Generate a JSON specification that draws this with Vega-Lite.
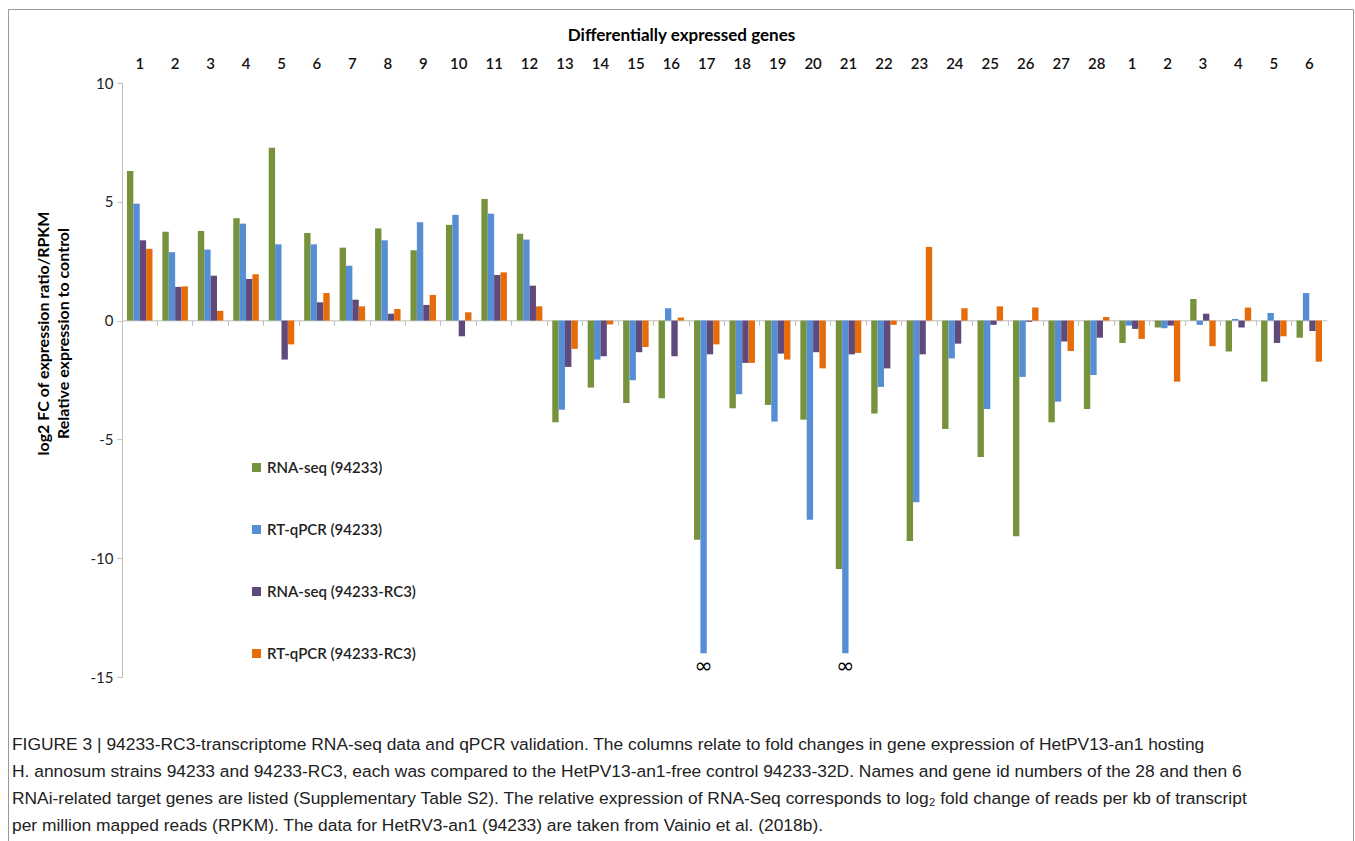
{
  "$schema": "https://vega.github.io/schema/vega-lite/v6.json",
  "width": 1345,
  "height": 834,
  "autosize": {"type": "none"},
  "padding": {"left": 8, "top": 9, "right": 2, "bottom": 0},
  "background": "white",
  "title": {
    "text": [
      "FIGURE 3 | 94233-RC3-transcriptome RNA-seq data and qPCR validation. The columns relate to fold changes in gene expression of HetPV13-an1 hosting",
      " H. annosum strains 94233 and 94233-RC3, each was compared to the HetPV13-an1-free control 94233-32D. Names and gene id numbers of the 28 and then 6",
      "RNAi-related target genes are listed (Supplementary Table S2). The relative expression of RNA-Seq corresponds to log₂ fold change of reads per kb of transcript",
      "per million mapped reads (RPKM). The data for HetRV3-an1 (94233) are taken from Vainio et al. (2018b)."
    ],
    "orient": "bottom",
    "anchor": "start",
    "frame": "group",
    "offset": -107,
    "dx": 4,
    "font": "Liberation Sans",
    "fontSize": 17.4,
    "fontWeight": "normal",
    "color": "#222222",
    "lineHeight": 27,
    "baseline": "top"
  },
  "datasets": {
    "inf": [
      {"g": "A17", "s": "RT-qPCR (94233)", "v": -14, "t": "∞"},
      {"g": "A21", "s": "RT-qPCR (94233)", "v": -14, "t": "∞"}
    ]
  },
  "data": {"values": [
    {"g":"A1","s":"RNA-seq (94233)","v":6.30},{"g":"A1","s":"RT-qPCR (94233)","v":4.92},{"g":"A1","s":"RNA-seq (94233-RC3)","v":3.38},{"g":"A1","s":"RT-qPCR (94233-RC3)","v":3.02},
    {"g":"A2","s":"RNA-seq (94233)","v":3.74},{"g":"A2","s":"RT-qPCR (94233)","v":2.88},{"g":"A2","s":"RNA-seq (94233-RC3)","v":1.42},{"g":"A2","s":"RT-qPCR (94233-RC3)","v":1.44},
    {"g":"A3","s":"RNA-seq (94233)","v":3.77},{"g":"A3","s":"RT-qPCR (94233)","v":2.99},{"g":"A3","s":"RNA-seq (94233-RC3)","v":1.89},{"g":"A3","s":"RT-qPCR (94233-RC3)","v":0.41},
    {"g":"A4","s":"RNA-seq (94233)","v":4.31},{"g":"A4","s":"RT-qPCR (94233)","v":4.08},{"g":"A4","s":"RNA-seq (94233-RC3)","v":1.75},{"g":"A4","s":"RT-qPCR (94233-RC3)","v":1.95},
    {"g":"A5","s":"RNA-seq (94233)","v":7.28},{"g":"A5","s":"RT-qPCR (94233)","v":3.21},{"g":"A5","s":"RNA-seq (94233-RC3)","v":-1.64},{"g":"A5","s":"RT-qPCR (94233-RC3)","v":-1.00},
    {"g":"A6","s":"RNA-seq (94233)","v":3.69},{"g":"A6","s":"RT-qPCR (94233)","v":3.21},{"g":"A6","s":"RNA-seq (94233-RC3)","v":0.77},{"g":"A6","s":"RT-qPCR (94233-RC3)","v":1.16},
    {"g":"A7","s":"RNA-seq (94233)","v":3.07},{"g":"A7","s":"RT-qPCR (94233)","v":2.31},{"g":"A7","s":"RNA-seq (94233-RC3)","v":0.88},{"g":"A7","s":"RT-qPCR (94233-RC3)","v":0.60},
    {"g":"A8","s":"RNA-seq (94233)","v":3.88},{"g":"A8","s":"RT-qPCR (94233)","v":3.38},{"g":"A8","s":"RNA-seq (94233-RC3)","v":0.29},{"g":"A8","s":"RT-qPCR (94233-RC3)","v":0.49},
    {"g":"A9","s":"RNA-seq (94233)","v":2.96},{"g":"A9","s":"RT-qPCR (94233)","v":4.14},{"g":"A9","s":"RNA-seq (94233-RC3)","v":0.66},{"g":"A9","s":"RT-qPCR (94233-RC3)","v":1.08},
    {"g":"A10","s":"RNA-seq (94233)","v":4.03},{"g":"A10","s":"RT-qPCR (94233)","v":4.45},{"g":"A10","s":"RNA-seq (94233-RC3)","v":-0.66},{"g":"A10","s":"RT-qPCR (94233-RC3)","v":0.35},
    {"g":"A11","s":"RNA-seq (94233)","v":5.12},{"g":"A11","s":"RT-qPCR (94233)","v":4.50},{"g":"A11","s":"RNA-seq (94233-RC3)","v":1.92},{"g":"A11","s":"RT-qPCR (94233-RC3)","v":2.03},
    {"g":"A12","s":"RNA-seq (94233)","v":3.66},{"g":"A12","s":"RT-qPCR (94233)","v":3.41},{"g":"A12","s":"RNA-seq (94233-RC3)","v":1.47},{"g":"A12","s":"RT-qPCR (94233-RC3)","v":0.60},
    {"g":"A13","s":"RNA-seq (94233)","v":-4.28},{"g":"A13","s":"RT-qPCR (94233)","v":-3.75},{"g":"A13","s":"RNA-seq (94233-RC3)","v":-1.95},{"g":"A13","s":"RT-qPCR (94233-RC3)","v":-1.19},
    {"g":"A14","s":"RNA-seq (94233)","v":-2.82},{"g":"A14","s":"RT-qPCR (94233)","v":-1.64},{"g":"A14","s":"RNA-seq (94233-RC3)","v":-1.50},{"g":"A14","s":"RT-qPCR (94233-RC3)","v":-0.16},
    {"g":"A15","s":"RNA-seq (94233)","v":-3.47},{"g":"A15","s":"RT-qPCR (94233)","v":-2.51},{"g":"A15","s":"RNA-seq (94233-RC3)","v":-1.33},{"g":"A15","s":"RT-qPCR (94233-RC3)","v":-1.11},
    {"g":"A16","s":"RNA-seq (94233)","v":-3.27},{"g":"A16","s":"RT-qPCR (94233)","v":0.52},{"g":"A16","s":"RNA-seq (94233-RC3)","v":-1.50},{"g":"A16","s":"RT-qPCR (94233-RC3)","v":0.13},
    {"g":"A17","s":"RNA-seq (94233)","v":-9.22},{"g":"A17","s":"RT-qPCR (94233)","v":-14.0},{"g":"A17","s":"RNA-seq (94233-RC3)","v":-1.42},{"g":"A17","s":"RT-qPCR (94233-RC3)","v":-1.00},
    {"g":"A18","s":"RNA-seq (94233)","v":-3.69},{"g":"A18","s":"RT-qPCR (94233)","v":-3.10},{"g":"A18","s":"RNA-seq (94233-RC3)","v":-1.78},{"g":"A18","s":"RT-qPCR (94233-RC3)","v":-1.78},
    {"g":"A19","s":"RNA-seq (94233)","v":-3.55},{"g":"A19","s":"RT-qPCR (94233)","v":-4.25},{"g":"A19","s":"RNA-seq (94233-RC3)","v":-1.39},{"g":"A19","s":"RT-qPCR (94233-RC3)","v":-1.64},
    {"g":"A20","s":"RNA-seq (94233)","v":-4.17},{"g":"A20","s":"RT-qPCR (94233)","v":-8.38},{"g":"A20","s":"RNA-seq (94233-RC3)","v":-1.33},{"g":"A20","s":"RT-qPCR (94233-RC3)","v":-2.01},
    {"g":"A21","s":"RNA-seq (94233)","v":-10.45},{"g":"A21","s":"RT-qPCR (94233)","v":-14.0},{"g":"A21","s":"RNA-seq (94233-RC3)","v":-1.42},{"g":"A21","s":"RT-qPCR (94233-RC3)","v":-1.36},
    {"g":"A22","s":"RNA-seq (94233)","v":-3.91},{"g":"A22","s":"RT-qPCR (94233)","v":-2.79},{"g":"A22","s":"RNA-seq (94233-RC3)","v":-2.01},{"g":"A22","s":"RT-qPCR (94233-RC3)","v":-0.18},
    {"g":"A23","s":"RNA-seq (94233)","v":-9.28},{"g":"A23","s":"RT-qPCR (94233)","v":-7.65},{"g":"A23","s":"RNA-seq (94233-RC3)","v":-1.42},{"g":"A23","s":"RT-qPCR (94233-RC3)","v":3.10},
    {"g":"A24","s":"RNA-seq (94233)","v":-4.56},{"g":"A24","s":"RT-qPCR (94233)","v":-1.59},{"g":"A24","s":"RNA-seq (94233-RC3)","v":-0.97},{"g":"A24","s":"RT-qPCR (94233-RC3)","v":0.52},
    {"g":"A25","s":"RNA-seq (94233)","v":-5.74},{"g":"A25","s":"RT-qPCR (94233)","v":-3.72},{"g":"A25","s":"RNA-seq (94233-RC3)","v":-0.18},{"g":"A25","s":"RT-qPCR (94233-RC3)","v":0.60},
    {"g":"A26","s":"RNA-seq (94233)","v":-9.08},{"g":"A26","s":"RT-qPCR (94233)","v":-2.37},{"g":"A26","s":"RNA-seq (94233-RC3)","v":-0.05},{"g":"A26","s":"RT-qPCR (94233-RC3)","v":0.55},
    {"g":"A27","s":"RNA-seq (94233)","v":-4.28},{"g":"A27","s":"RT-qPCR (94233)","v":-3.41},{"g":"A27","s":"RNA-seq (94233-RC3)","v":-0.88},{"g":"A27","s":"RT-qPCR (94233-RC3)","v":-1.28},
    {"g":"A28","s":"RNA-seq (94233)","v":-3.72},{"g":"A28","s":"RT-qPCR (94233)","v":-2.29},{"g":"A28","s":"RNA-seq (94233-RC3)","v":-0.72},{"g":"A28","s":"RT-qPCR (94233-RC3)","v":0.15},
    {"g":"B1","s":"RNA-seq (94233)","v":-0.94},{"g":"B1","s":"RT-qPCR (94233)","v":-0.21},{"g":"B1","s":"RNA-seq (94233-RC3)","v":-0.35},{"g":"B1","s":"RT-qPCR (94233-RC3)","v":-0.77},
    {"g":"B2","s":"RNA-seq (94233)","v":-0.29},{"g":"B2","s":"RT-qPCR (94233)","v":-0.32},{"g":"B2","s":"RNA-seq (94233-RC3)","v":-0.21},{"g":"B2","s":"RT-qPCR (94233-RC3)","v":-2.57},
    {"g":"B3","s":"RNA-seq (94233)","v":0.91},{"g":"B3","s":"RT-qPCR (94233)","v":-0.18},{"g":"B3","s":"RNA-seq (94233-RC3)","v":0.29},{"g":"B3","s":"RT-qPCR (94233-RC3)","v":-1.08},
    {"g":"B4","s":"RNA-seq (94233)","v":-1.30},{"g":"B4","s":"RT-qPCR (94233)","v":0.07},{"g":"B4","s":"RNA-seq (94233-RC3)","v":-0.29},{"g":"B4","s":"RT-qPCR (94233-RC3)","v":0.55},
    {"g":"B5","s":"RNA-seq (94233)","v":-2.57},{"g":"B5","s":"RT-qPCR (94233)","v":0.32},{"g":"B5","s":"RNA-seq (94233-RC3)","v":-0.94},{"g":"B5","s":"RT-qPCR (94233-RC3)","v":-0.66},
    {"g":"B6","s":"RNA-seq (94233)","v":-0.72},{"g":"B6","s":"RT-qPCR (94233)","v":1.16},{"g":"B6","s":"RNA-seq (94233-RC3)","v":-0.44},{"g":"B6","s":"RT-qPCR (94233-RC3)","v":-1.73}
  ]},
  "layer": [
    {
      "mark": {"type": "bar"},
      "encoding": {
        "x": {
          "field": "g", "type": "nominal",
          "scale": {
            "domain": ["A1","A2","A3","A4","A5","A6","A7","A8","A9","A10","A11","A12","A13","A14","A15","A16","A17","A18","A19","A20","A21","A22","A23","A24","A25","A26","A27","A28","B1","B2","B3","B4","B5","B6"],
            "range": [114, 1319],
            "paddingInner": 0.28,
            "paddingOuter": 0.14
          },
          "axis": {
            "orient": "top", "offset": -74, "domain": false, "ticks": false, "labelAngle": 0,
            "labelExpr": "substring(datum.value, 1)", "labelPadding": 12,
            "labelFont": "Lato", "labelFontSize": 15, "labelFontWeight": 600, "labelColor": "#111111",
            "title": "Differentially expressed genes", "titleFont": "Lato", "titleFontSize": 17,
            "titleFontWeight": "bold", "titleColor": "#000000", "titleX": 673, "titlePadding": 12
          }
        },
        "xOffset": {
          "field": "s", "type": "nominal",
          "scale": {"domain": ["RNA-seq (94233)","RT-qPCR (94233)","RNA-seq (94233-RC3)","RT-qPCR (94233-RC3)"], "paddingInner": 0, "paddingOuter": 0}
        },
        "y": {
          "field": "v", "type": "quantitative",
          "scale": {"domain": [-15, 10], "range": [668, 74], "nice": false, "zero": false},
          "axis": {
            "orient": "left", "offset": -114, "values": [-15, -10, -5, 0, 5, 10],
            "labelExpr": "'' + datum.value", "grid": false,
            "domainColor": "#bfbfbf", "tickColor": "#bfbfbf", "tickSize": 5, "labelPadding": 4,
            "labelFont": "Lato", "labelFontSize": 15, "labelColor": "#222222",
            "title": ["log2 FC of expression ratio/RPKM", "Relative expression to control"],
            "titleFont": "Lato", "titleFontSize": 16, "titleFontWeight": "bold", "titleColor": "#000000",
            "titleX": -87, "titleY": 324, "titleAngle": -90, "titleBaseline": "top", "titleAlign": "center", "titleLineHeight": 20
          }
        },
        "color": {
          "field": "s", "type": "nominal",
          "scale": {
            "domain": ["RNA-seq (94233)","RT-qPCR (94233)","RNA-seq (94233-RC3)","RT-qPCR (94233-RC3)"],
            "range": ["#76923C", "#558ED5", "#604A7B", "#E46C0A"]
          },
          "legend": {
            "orient": "none", "legendX": 241, "legendY": 451, "direction": "vertical", "title": null,
            "rowPadding": 46, "symbolType": "square", "symbolSize": 81, "symbolStrokeWidth": 0,
            "labelFont": "Lato", "labelFontSize": 15, "labelFontWeight": 600, "labelColor": "#222222", "labelOffset": 3
          }
        }
      }
    },
    {
      "data": {"name": "inf"},
      "mark": {"type": "text", "baseline": "top", "dy": 3, "fontSize": 22, "font": "DejaVu Sans", "color": "#000000"},
      "encoding": {
        "x": {
          "field": "g", "type": "nominal",
          "axis": {
            "orient": "bottom", "offset": -522.7, "labels": false, "title": null,
            "domainColor": "#bfbfbf", "tickColor": "#bfbfbf", "tickSize": 5, "bandPosition": -0.194
          }
        },
        "xOffset": {"field": "s", "type": "nominal"},
        "y": {"field": "v", "type": "quantitative"},
        "text": {"field": "t", "type": "nominal"}
      }
    }
  ],
  "resolve": {"axis": {"x": "independent"}},
  "config": {
    "view": {"stroke": "#999999", "strokeWidth": 1},
    "bar": {"stroke": null}
  }
}
